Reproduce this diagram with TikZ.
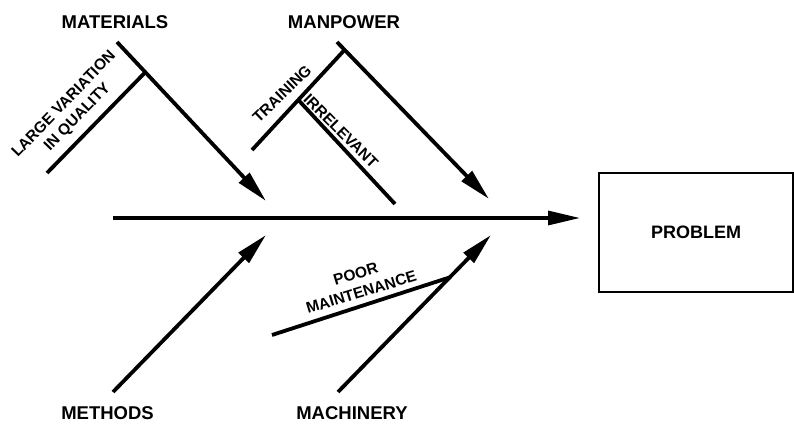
\documentclass[tikz,border=0pt]{standalone}
\usepackage{fontspec}
\setmainfont{Liberation Sans}
\usetikzlibrary{arrows.meta,calc}
\begin{document}
\begin{tikzpicture}[x=1pt,y=-1pt,
  bone/.style={line width=3.8pt},
  tip/.style={-{Triangle[length=32pt,width=14pt]}},
  cat/.style={font=\bfseries\fontsize{18.5}{21}\selectfont, inner sep=0pt},
  cause/.style={font=\bfseries\fontsize{15.5}{19}\selectfont, align=center, inner sep=0pt}]
\useasboundingbox (0,0) rectangle (794,423);

% problem box and spine
\node[draw, line width=2.2pt, minimum width=194pt, minimum height=119pt,
      font=\bfseries\fontsize{18}{21}\selectfont] (prob) at (696,232.5) {PROBLEM};
\coordinate (spS) at (113,218);
\coordinate (spE) at (580,218);
\draw[line width=3.2pt,tip] (spS) -- (spE);

% materials
\node[cat] (mat) at (115,22) {MATERIALS};
\coordinate (maS) at (117,42);
\coordinate (maE) at (266,201);
\coordinate (maJ) at ($(maS)!0.19!(maE)$);
\coordinate (lvE) at (47,173);
\draw[bone,tip] (maS) -- (maE);
\draw[bone] (maJ) -- (lvE);
\node[cause, rotate=46] (lv) at (71,111) {LARGE VARIATION\\IN QUALITY};

% manpower
\node[cat] (man) at (344,22) {MANPOWER};
\coordinate (mpS) at (337,42);
\coordinate (mpE) at (489,199);
\coordinate (mpJ) at ($(mpS)!0.05!(mpE)$);
\coordinate (trE) at (252,150);
\coordinate (trJ) at ($(mpJ)!0.5!(trE)$);
\coordinate (irE) at (395,204);
\draw[bone,tip] (mpS) -- (mpE);
\draw[bone] (mpJ) -- (trE);
\draw[bone] (trJ) -- (irE);
\node[cause, rotate=44] (tr) at (282,94) {TRAINING};
\node[cause, rotate=-45] (ir) at (341,131) {IRRELEVANT};

% methods
\node[cat] (met) at (107.5,413) {METHODS};
\coordinate (meS) at (113,392);
\coordinate (meE) at (266,235);
\draw[bone,tip] (meS) -- (meE);

% machinery
\node[cat] (mac) at (352,413) {MACHINERY};
\coordinate (mcS) at (338,392);
\coordinate (mcE) at (491,235);
\coordinate (mcJ) at ($(mcS)!0.73!(mcE)$);
\coordinate (pmE) at (272,335);
\draw[bone,tip] (mcS) -- (mcE);
\draw[bone] (mcJ) -- (pmE);
\node[cause, rotate=17] (pm) at (358.5,283) {POOR\\MAINTENANCE};
\end{tikzpicture}
\end{document}
